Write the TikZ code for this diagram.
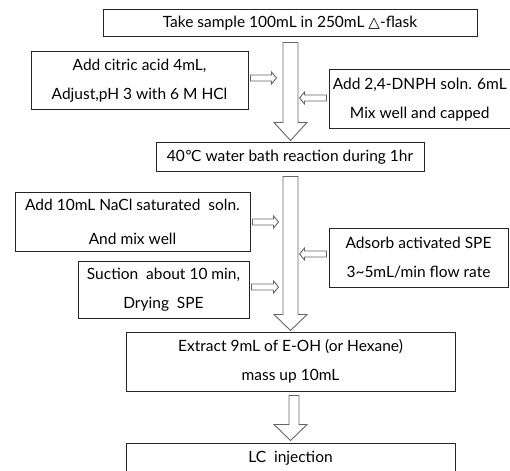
\documentclass[tikz,border=0pt]{standalone}
\usepackage{fontspec}
\setmainfont{Lato}
\newfontfamily\symfont{DejaVu Sans}
\usepackage{tikz}
\usetikzlibrary{calc}

% hollow block arrows (start, tip, shaft half width, head half width, head length)
\newcommand{\blockdown}[5]{%
  \draw[blockline] ($(#1)+(-#3,0)$) -- ($(#2)+(-#3,-#5)$) -- ($(#2)+(-#4,-#5)$) -- (#2)
    -- ($(#2)+(#4,-#5)$) -- ($(#2)+(#3,-#5)$) -- ($(#1)+(#3,0)$) -- cycle;}
\newcommand{\blockright}[5]{%
  \draw[blockline] ($(#1)+(0,-#3)$) -- ($(#2)+(-#5,-#3)$) -- ($(#2)+(-#5,-#4)$) -- (#2)
    -- ($(#2)+(-#5,#4)$) -- ($(#2)+(-#5,#3)$) -- ($(#1)+(0,#3)$) -- cycle;}
\newcommand{\blockleft}[5]{%
  \draw[blockline] ($(#1)+(0,-#3)$) -- ($(#2)+(#5,-#3)$) -- ($(#2)+(#5,-#4)$) -- (#2)
    -- ($(#2)+(#5,#4)$) -- ($(#2)+(#5,#3)$) -- ($(#1)+(0,#3)$) -- cycle;}

\begin{document}
\begin{tikzpicture}[
  x=1pt, y=-1pt,
  stepbox/.style={draw=black!85, line width=1pt, align=center, inner sep=0pt, font=\fontsize{15.5}{29}\selectfont},
  blockline/.style={draw=black!60, line width=0.9pt, line join=miter, fill=white}
]
\useasboundingbox[fill=white] (0,0) rectangle (510,470);

\node[stepbox, minimum width=374pt, minimum height=27pt] (take) at (290,23.5) {Take sample 100mL in 250mL {\symfont\fontsize{15}{15}\selectfont △}-flask};
\node[stepbox, minimum width=217pt, minimum height=58pt] (citric) at (139.5,81) {Add citric acid 4mL,\\Adjust,pH 3 with 6 M HCl};
\node[stepbox, minimum width=181.5pt, minimum height=59pt] (dnph) at (419.75,99.5) {Add 2,4-DNPH soln. 6mL\\Mix well and capped};
\node[stepbox, minimum width=268pt, minimum height=29pt] (bath) at (290,157.5) {40{\symfont\fontsize{15}{15}\selectfont ℃} water bath reaction during 1hr};
\node[stepbox, minimum width=235pt, minimum height=59pt] (nacl) at (132.5,221.5) {Add 10mL NaCl saturated\ \ soln.\\[5pt]And mix well};
\node[stepbox, minimum width=171pt, minimum height=57pt] (suction) at (163.5,289.5) {Suction\ \ about 10 min,\\Drying\ \ SPE};
\node[stepbox, minimum width=179pt, minimum height=59pt] (spe) at (418.5,257.5) {Adsorb activated SPE\\3\textasciitilde 5mL/min flow rate};
\node[stepbox, minimum width=329pt, minimum height=59pt] (extract) at (290.5,361.5) {Extract 9mL of E-OH (or Hexane)\\mass up 10mL};
\node[stepbox, minimum width=329pt, minimum height=30pt] (lc) at (290.5,458) {LC\ \ injection};

% main flow
\coordinate (a1s) at ($(take.south)+(0.5,5)$);
\coordinate (a1t) at ($(bath.north)+(0.5,-2)$);
\coordinate (a2s) at ($(bath.south)+(0.5,4)$);
\coordinate (a2t) at ($(extract.north)+(0,-1)$);
\coordinate (a3s) at ($(extract.south)+(3.5,4)$);
\coordinate (a3t) at ($(lc.north)+(0,-2)$);
\blockdown{a1s}{a1t}{7.5}{16.5}{18}
\blockdown{a2s}{a2t}{7.5}{16.5}{16}
\draw[blockline] ($(a3s)+(-5,0)$) -- ($(a3t)+(-1.5,-16)$) -- ($(a3t)+(-16.5,-16)$) -- (a3t)
  -- ($(a3t)+(16.5,-16)$) -- ($(a3t)+(8.5,-16)$) -- ($(a3s)+(5,0)$) -- cycle;

% side additions
\coordinate (r1s) at ($(citric.east)+(2,-3)$);
\coordinate (r2s) at ($(nacl.east)+(2,0.5)$);
\coordinate (r3s) at ($(suction.east)+(2,-2.5)$);
\coordinate (l1s) at ($(dnph.west)+(-2,-1.5)$);
\coordinate (l2s) at ($(spe.west)+(-2,-3.5)$);
\blockright{r1s}{$(r1s)+(26,0)$}{3}{6}{5}
\blockright{r2s}{$(r2s)+(26,0)$}{3}{6}{5}
\blockright{r3s}{$(r3s)+(27,0)$}{3}{6}{5}
\blockleft{l1s}{$(l1s)+(-27,0)$}{3}{6}{5}
\blockleft{l2s}{$(l2s)+(-27,0)$}{3}{6}{5}
\end{tikzpicture}
\end{document}
